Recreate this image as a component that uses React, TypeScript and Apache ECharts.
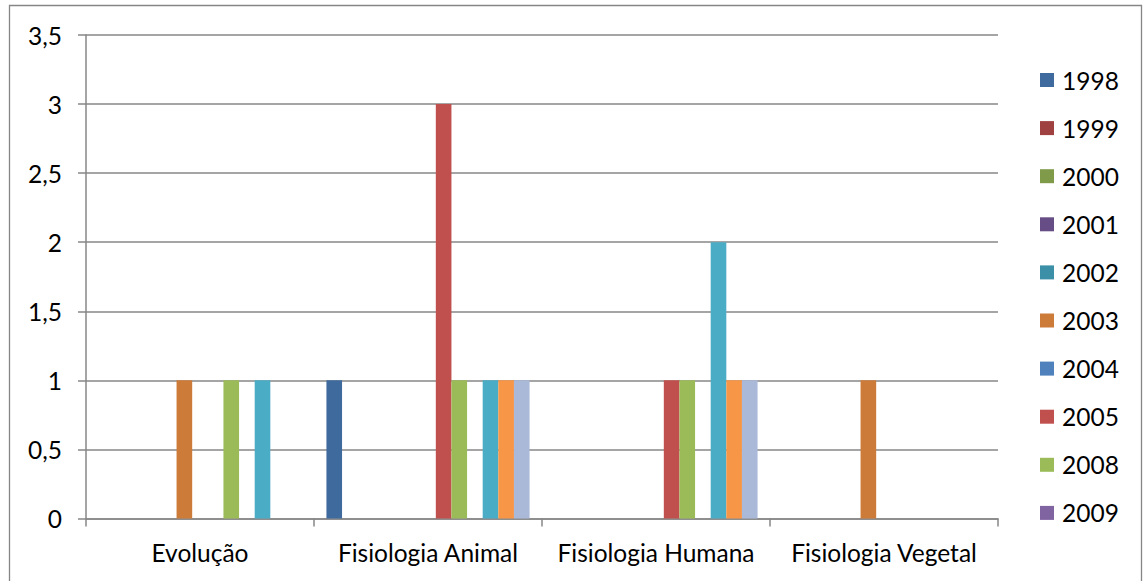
import React, { useEffect, useRef } from "react";
import * as echarts from "echarts";

// Subject areas along the x axis
const categories = ["Evolução", "Fisiologia Animal", "Fisiologia Humana", "Fisiologia Vegetal"];

// One series per year; values per subject area (same order as categories)
const years = ["1998", "1999", "2000", "2001", "2002", "2003", "2004", "2005", "2008", "2009", "2010", "2011", "2012"];
const v1998 = [0, 1, 0, 0];
const v1999 = [0, 0, 0, 0];
const v2000 = [0, 0, 0, 0];
const v2001 = [0, 0, 0, 0];
const v2002 = [0, 0, 0, 0];
const v2003 = [1, 0, 0, 1];
const v2004 = [0, 0, 0, 0];
const v2005 = [0, 3, 1, 0];
const v2008 = [1, 1, 1, 0];
const v2009 = [0, 0, 0, 0];
const v2010 = [1, 1, 2, 0];
const v2011 = [0, 1, 1, 0];
const v2012 = [0, 1, 1, 0];
const seriesValues = [v1998, v1999, v2000, v2001, v2002, v2003, v2004, v2005, v2008, v2009, v2010, v2011, v2012];

// Years listed in the legend
const legendYears = ["1998", "1999", "2000", "2001", "2002", "2003", "2004", "2005", "2008", "2009"];

// Y axis ticks
const yMin = 0;
const yMax = 3.5;
const yStep = 0.5;

const palette = [
  "#3F6A9E", "#9E4140", "#7F9A49", "#664D85", "#3B8FA6", "#CD7B38",
  "#4F81BD", "#C0504D", "#9BBB59", "#8064A2", "#4BACC6", "#F79646", "#AAB9D8",
];

const FONT = "Lato, 'Open Sans', sans-serif";
const FONT_SIZE = 24.5;
const GRID_COLOR = "#878787";

export default function App() {
  const ref = useRef<HTMLDivElement>(null);

  useEffect(() => {
    if (!ref.current) return;
    const chart = echarts.init(ref.current, undefined, { renderer: "svg" });
    chart.setOption({
      animation: false,
      color: palette,
      textStyle: { fontFamily: FONT },
      graphic: [
        {
          type: "rect",
          shape: { x: 9.5, y: 5.5, width: 1132, height: 600 },
          style: { fill: "none", stroke: "#868686", lineWidth: 1.3 },
          silent: true,
        },
      ],
      grid: { left: 86, right: 148, top: 35, bottom: 62.5 },
      legend: {
        data: legendYears,
        orient: "vertical",
        left: 1040,
        top: 67.5,
        padding: 0,
        icon: "rect",
        itemWidth: 14,
        itemHeight: 14,
        itemGap: 23.1,
        textStyle: { fontFamily: FONT, fontSize: FONT_SIZE, color: "#000", lineHeight: 24, padding: [0, 0, 0, 3] },
      },
      xAxis: {
        type: "category",
        data: categories,
        axisLine: { lineStyle: { color: GRID_COLOR, width: 1.5 } },
        axisTick: { show: true, length: 8, lineStyle: { color: GRID_COLOR, width: 1.5 } },
        axisLabel: { fontFamily: FONT, fontSize: FONT_SIZE, color: "#000", margin: 21, interval: 0 },
      },
      yAxis: {
        type: "value",
        min: yMin,
        max: yMax,
        interval: yStep,
        axisLine: { show: true, lineStyle: { color: GRID_COLOR, width: 1.5 } },
        axisTick: { show: true, length: 8, lineStyle: { color: GRID_COLOR, width: 1.5 } },
        axisLabel: {
          fontFamily: FONT,
          fontSize: FONT_SIZE,
          color: "#000",
          margin: 24,
          formatter: (v: number) => String(v).replace(".", ","),
        },
        splitLine: { lineStyle: { color: GRID_COLOR, width: 1.5 } },
      },
      series: years.map((name, i) => ({
        name,
        type: "bar",
        data: seriesValues[i],
        barGap: "0%",
        barCategoryGap: "10.9%",
      })),
    });
    return () => chart.dispose();
  }, []);

  return (
    <div
      ref={ref}
      style={{ position: "absolute", left: 0, top: 0, width: 1146, height: 581, background: "#fff" }}
    />
  );
}
